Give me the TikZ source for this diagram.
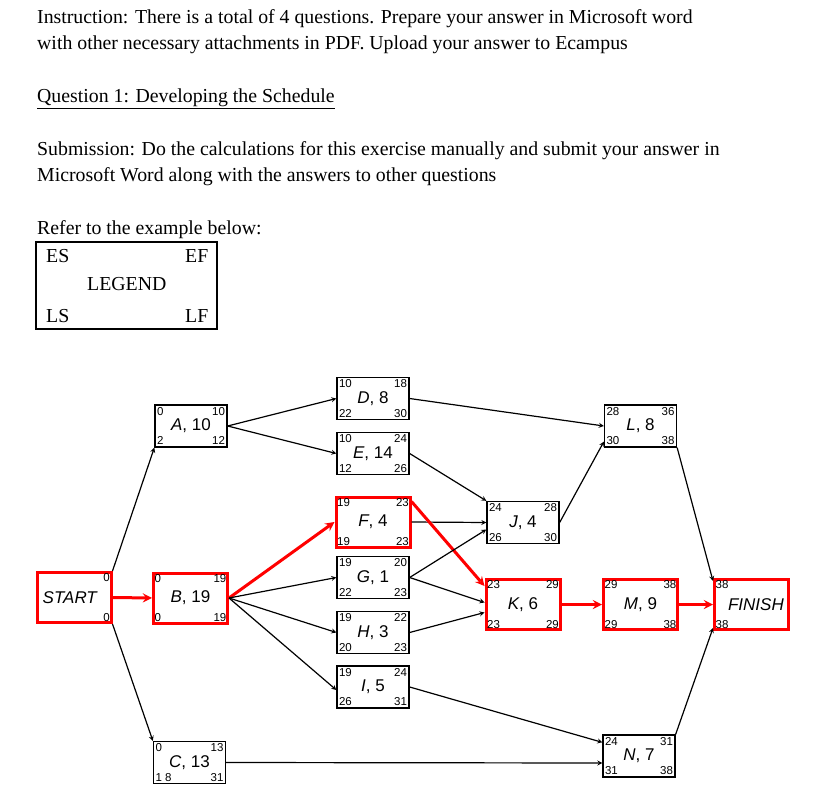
\documentclass[tikz,border=0pt]{standalone}
\usepackage{fontspec}
\setmainfont{Liberation Serif}
\newfontfamily\arial{Liberation Sans}
\usetikzlibrary{calc}
\newcommand\act[8]{%
  \node[#1] (#2) at (#3) {};
  \node[lbl] at (#2.center) {#4};
  \node[num,anchor=north west] at (#2.north west) {#5};
  \node[num,anchor=north east] at (#2.north east) {#6};
  \node[num,anchor=south west] at (#2.south west) {#7};
  \node[num,anchor=south east] at (#2.south east) {#8};
}
\tikzset{
  box/.style={draw=black,line width=1.3pt,minimum width=72pt,minimum height=42pt,inner sep=0},
  crit/.style={draw=red,line width=3pt,minimum width=74pt,minimum height=50pt,inner sep=0},
  num/.style={font=\arial\fontsize{11.5}{12}\selectfont,inner sep=2.5pt},
  lbl/.style={font=\arial\fontsize{17}{18}\selectfont,inner sep=0},
  txt/.style={font=\fontsize{19.8}{22}\selectfont,anchor=base west,inner sep=0},
  arr/.style={-stealth,line width=1.2pt},
  carr/.style={-stealth,red,line width=3pt},
}
\begin{document}
\begin{tikzpicture}[x=1pt,y=-1pt]
\useasboundingbox (0,0) rectangle (822,797);
\node[txt] (t1) at (37,24) {Instruction: There is a total of 4 questions. Prepare your answer in Microsoft word};
\node[txt] (t2) at (37,50) {with other necessary attachments in PDF. Upload your answer to Ecampus};
\node[txt] (t3) at (37,103) {\underline{Question 1: Developing the Schedule}};
\node[txt] (t4) at (37,156) {Submission: Do the calculations for this exercise manually and submit your answer in};
\node[txt] (t5) at (37,182) {Microsoft Word along with the answers to other questions};
\node[txt] (t6) at (37,234) {Refer to the example below:};
\node[draw,line width=1.2pt,minimum width=181pt,minimum height=87pt,inner sep=0] (leg) at (126.5,285.5) {};
\node[txt] (es) at (46,262) {ES};
\node[txt] (ef) at (185,262) {EF};
\node[txt] (lg) at (87,290) {LEGEND};
\node[txt] (ls) at (46,322) {LS};
\node[txt] (lf) at (185,322) {LF};

\act{crit}{S}{74,597.5}{}{}{0}{}{0}
\node[lbl,anchor=west] at ($(S.west)+(7,0)$) {\itshape START};
\act{crit}{B}{190.5,598}{\textit{B}, 19}{0}{19}{0}{19}
\act{box}{A}{191,426}{\textit{A}, 10}{0}{10}{2}{12}
\act{box}{C}{189.5,762.5}{\textit{C}, 13}{0}{13}{1 8}{31}
\act{box}{D}{373,398.5}{\textit{D}, 8}{10}{18}{22}{30}
\act{box}{E}{373,453.5}{\textit{E}, 14}{10}{24}{12}{26}
\act{crit}{F}{373,522}{\textit{F}, 4}{19}{23}{19}{23}
\act{box}{G}{373,577.5}{\textit{G}, 1}{19}{20}{22}{23}
\act{box}{H}{373,632.5}{\textit{H}, 3}{19}{22}{20}{23}
\act{box}{I}{373,687}{\textit{I}, 5}{19}{24}{26}{31}
\act{box}{J}{523,522.5}{\textit{J}, 4}{24}{28}{26}{30}
\act{crit}{K}{523,604.5}{\textit{K}, 6}{23}{29}{23}{29}
\act{box}{L}{640.5,426}{\textit{L}, 8}{28}{36}{30}{38}
\act{crit}{M}{640.5,604.5}{\textit{M}, 9}{29}{38}{29}{38}
\act{box}{N}{639,756}{\textit{N}, 7}{24}{31}{31}{38}
\act{crit}{Fi}{751.5,604.5}{}{38}{}{38}{}
\node[lbl,anchor=east] at ($(Fi.east)+(-6,0)$) {\itshape FINISH};

\draw[arr] (S.north east) -- (A.south west);
\draw[arr] (S.south east) -- (C.north west);
\draw[carr] (S.east) -- (B.west);
\draw[arr] (A.east) -- (D.west);
\draw[arr] (A.east) -- (E.west);
\draw[carr] (B.east) -- (F.west);
\draw[arr] (B.east) -- (G.west);
\draw[arr] (B.east) -- (H.west);
\draw[arr] (B.east) -- ($(I.west)+(0,3)$);
\draw[arr] (C.east) -- ($(N.west)+(0,7)$);
\draw[arr] (D.east) -- (L.west);
\draw[arr] (E.east) -- (J.north west);
\draw[arr] (F.east) -- (J.west);
\draw[carr] ($(F.north east)+(0,6)$) -- ($(K.north west)+(0,8)$);
\draw[arr] (G.east) -- ($(J.west)+(0,7)$);
\draw[arr] (G.east) -- ($(K.west)+(0,-2)$);
\draw[arr] (H.east) -- ($(K.west)+(0,8)$);
\draw[arr] (I.east) -- ($(N.north west)+(0,8)$);
\draw[arr] (J.east) -- ($(L.south west)+(0,-6)$);
\draw[carr] (K.east) -- (M.west);
\draw[carr] (M.east) -- (Fi.west);
\draw[arr] (L.south east) -- ($(Fi.north west)+(0,3)$);
\draw[arr] (N.north east) -- ($(Fi.south west)+(0,-3)$);
\end{tikzpicture}
\end{document}
